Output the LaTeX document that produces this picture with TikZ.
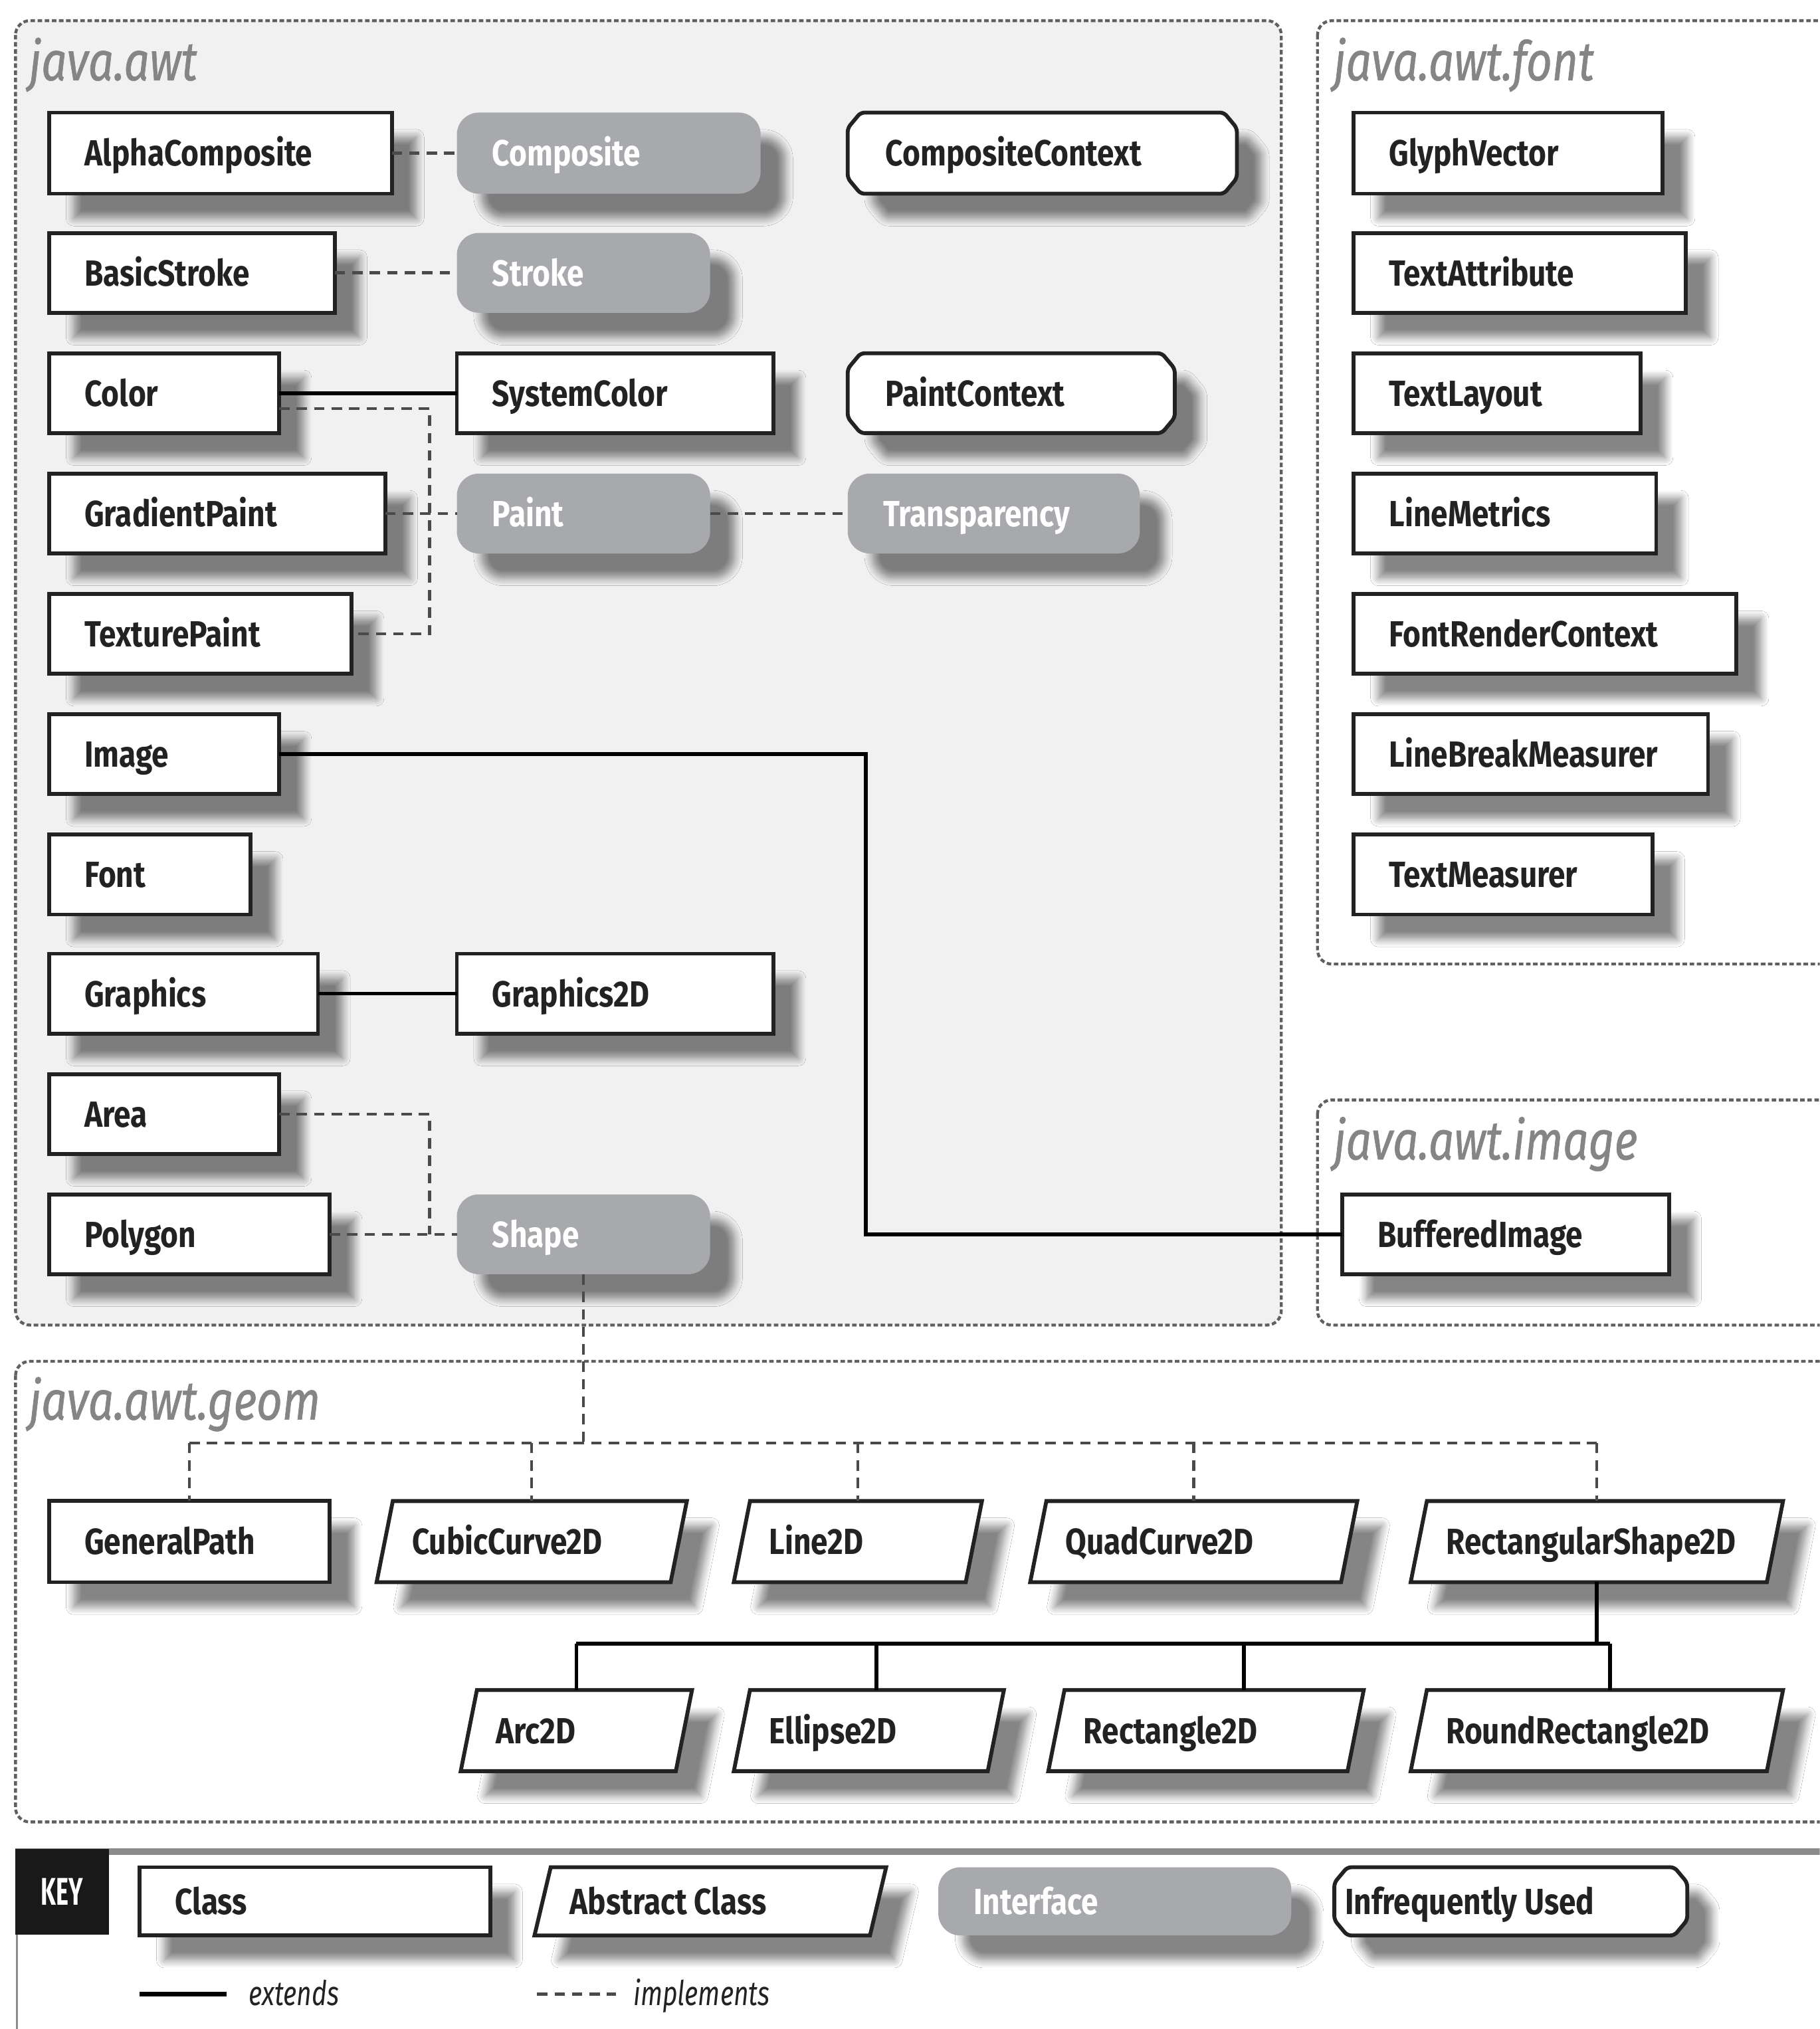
\documentclass[tikz,border=0pt]{standalone}
\usepackage{fontspec}
\setmainfont{Fira Sans}[FakeStretch=0.84]
\newfontfamily\titlefont{Fira Sans}[FakeStretch=0.82, FakeBold=0.8]
\newfontfamily\keylblfont{Fira Sans}[FakeStretch=0.76]
\newfontfamily\keyfont{Fira Sans}[FakeStretch=0.62]
\usetikzlibrary{shadows.blur}
\definecolor{awtbg}{HTML}{F1F1F1}
\definecolor{grpline}{HTML}{606060}
\definecolor{ifcfill}{HTML}{A7A9AC}
\definecolor{titlegray}{HTML}{858585}
\definecolor{impcol}{HTML}{4A4A4A}
\definecolor{keygray}{HTML}{8C8C8C}
\definecolor{boxcol}{HTML}{222222}
\tikzset{
  grp/.style={draw=grpline, line width=0.045cm, dash pattern=on 0.07cm off 0.04cm, rounded corners=0.22cm},
  sh/.style={blur shadow={shadow xshift=0.38cm, shadow yshift=-0.38cm, shadow blur radius=0.12cm, shadow blur steps=8, shadow opacity=48}},
  frame/.style={draw=none, inner sep=0pt, anchor=north west},
  boxline/.style={draw=boxcol, line width=0.06cm, fill=white, sh},
  ifcshape/.style={fill=ifcfill, rounded corners=0.34cm, sh},
  lbl/.style={anchor=base west, inner sep=0pt, font=\fontsize{16}{18}\selectfont\bfseries, text=boxcol},
  ilbl/.style={lbl, text=white},
  ttl/.style={anchor=base west, inner sep=0pt, font=\titlefont\fontsize{24}{26}\selectfont\itshape, text=titlegray},
  ext/.style={draw=black, line width=0.06cm},
  imp/.style={draw=impcol, line width=0.045cm, dash pattern=on 0.16cm off 0.11cm},
  keylbl/.style={anchor=base west, inner sep=0pt, font=\keylblfont\fontsize{15}{17}\selectfont\itshape, text=boxcol},
}
\newcommand\mkframe[5]{\node[frame, minimum width={(#4-#2)*0.02cm}, minimum height={(#5-#3)*0.02cm}] (#1) at (#2,#3) {};}
\newcommand\clsnode[6]{\mkframe{#1}{#2}{#3}{#4}{#5}
  \draw[boxline] (#1.north west) rectangle (#1.south east);
  \node[lbl] (#1-l) at ([xshift=0.54cm,yshift=-0.2cm]#1.west) {#6};}
\newcommand\absnode[6]{\mkframe{#1}{#2}{#3}{#4}{#5}
  \draw[boxline] ([xshift=0.25cm]#1.north west) -- (#1.north east) -- ([xshift=-0.25cm]#1.south east) -- (#1.south west) -- cycle;
  \node[lbl] (#1-l) at ([xshift=0.54cm,yshift=-0.2cm]#1.west) {#6};}
\newcommand\ifcnode[6]{\mkframe{#1}{#2}{#3}{#4}{#5}
  \fill[ifcshape] (#1.north west) rectangle (#1.south east);
  \node[ilbl] (#1-l) at ([xshift=0.54cm,yshift=-0.2cm]#1.west) {#6};}
\newcommand\infnode[7][0.58cm]{\mkframe{#2}{#3}{#4}{#5}{#6}
  \draw[boxline, rounded corners=0.06cm] ([xshift=0.2cm]#2.north west) -- ([xshift=-0.2cm]#2.north east) -- ([yshift=-0.24cm]#2.north east) -- ([yshift=0.24cm]#2.south east) -- ([xshift=-0.2cm]#2.south east) -- ([xshift=0.2cm]#2.south west) -- ([yshift=0.24cm]#2.south west) -- ([yshift=-0.24cm]#2.north west) -- cycle;
  \node[lbl] (#2-l) at ([xshift=#1,yshift=-0.2cm]#2.west) {#7};}
\begin{document}
\begin{tikzpicture}[x=0.02cm,y=-0.02cm]
\useasboundingbox (0,0) rectangle (1406,1568);
\clip (0,0) rectangle (1406,1568);
\fill[white] (0,0) rectangle (1406,1568);
% groups
\draw[grp, fill=awtbg] (12,16) rectangle (990,1024);
\draw[grp, fill=white] (1018,16) rectangle (1460,745);
\draw[grp, fill=white] (1018,850) rectangle (1460,1024);
\draw[grp, fill=white] (12,1052) rectangle (1460,1408);
\node[ttl] (t-awt) at (22,62) {java.awt};
\node[ttl] (t-font) at (1030,62) {java.awt.font};
\node[ttl] (t-image) at (1030,896) {java.awt.image};
\node[ttl] (t-geom) at (22,1097) {java.awt.geom};
% java.awt
\clsnode{alpha}{38}{87}{302}{149}{AlphaComposite}
\ifcnode{composite}{353}{87}{587}{149}{Composite}
\infnode{cctx}{655}{87}{955}{149}{CompositeContext}
\clsnode{basic}{38}{180}{258}{241}{BasicStroke}
\ifcnode{stroke}{353}{180}{548}{241}{Stroke}
\clsnode{color}{38}{273}{215}{334}{Color}
\clsnode{syscolor}{353}{273}{597}{334}{SystemColor}
\infnode{pctx}{655}{273}{907}{334}{PaintContext}
\clsnode{gradient}{38}{366}{297}{427}{GradientPaint}
\ifcnode{paint}{353}{366}{548}{427}{Paint}
\ifcnode{transp}{655}{366}{880}{427}{Transparency}
\clsnode{texture}{38}{459}{271}{520}{TexturePaint}
\clsnode{image}{38}{552}{215}{613}{Image}
\clsnode{font}{38}{645}{193}{706}{Font}
\clsnode{graphics}{38}{737}{245}{798}{Graphics}
\clsnode{gtwod}{353}{737}{597}{798}{Graphics2D}
\clsnode{area}{38}{830}{215}{891}{Area}
\clsnode{polygon}{38}{923}{254}{984}{Polygon}
\ifcnode{shape}{353}{923}{548}{984}{Shape}
% java.awt.font
\clsnode{glyph}{1046}{87}{1284}{149}{GlyphVector}
\clsnode{tattr}{1046}{180}{1302}{241}{TextAttribute}
\clsnode{tlayout}{1046}{273}{1267}{334}{TextLayout}
\clsnode{lmetrics}{1046}{366}{1279}{427}{LineMetrics}
\clsnode{frc}{1046}{459}{1341}{520}{FontRenderContext}
\clsnode{lbm}{1046}{552}{1319}{613}{LineBreakMeasurer}
\clsnode{tmeas}{1046}{645}{1276}{706}{TextMeasurer}
% java.awt.image
\clsnode{bufimg}{1037}{923}{1289}{984}{BufferedImage}
% java.awt.geom
\clsnode{gpath}{38}{1160}{254}{1222}{GeneralPath}
\absnode{cubic}{291}{1160}{530}{1222}{CubicCurve2D}
\absnode{line}{567}{1160}{758}{1222}{Line2D}
\absnode{quad}{796}{1160}{1048}{1222}{QuadCurve2D}
\absnode{rshape}{1090}{1160}{1377}{1222}{RectangularShape2D}
\absnode{arc}{356}{1306}{534}{1368}{Arc2D}
\absnode{ellipse}{567}{1306}{775}{1368}{Ellipse2D}
\absnode{rect}{810}{1306}{1053}{1368}{Rectangle2D}
\absnode{rrect}{1090}{1306}{1377}{1368}{RoundRectangle2D}
% connectors java.awt
\coordinate (jx) at (332,0);
\coordinate (ix) at (669,0);
\draw[imp] (alpha.east) -- (composite.west);
\draw[imp] (basic.east) -- (stroke.west);
\draw[ext] (color.east) -- (syscolor.west);
\draw[imp] ([yshift=-0.24cm]color.east) -| (texture.east -| jx) -- (texture.east);
\draw[imp] (gradient.east) -- (paint.west);
\draw[imp] (paint.east) -- (transp.west);
\draw[ext] (image.east) -| (bufimg.west -| ix) -- (bufimg.west);
\draw[ext] (graphics.east) -- (gtwod.west);
\draw[imp] (area.east) -| (shape.west -| jx);
\draw[imp] (polygon.east) -- (shape.west);
% connectors geom
\coordinate (bus) at (0,1115);
\draw[imp] (shape.south) -- (shape.south |- bus);
\draw[imp] (gpath.north |- bus) -- (rshape.north |- bus);
\draw[imp] (gpath.north |- bus) -- (gpath.north);
\draw[imp] (cubic.north |- bus) -- (cubic.north);
\draw[imp] (line.north |- bus) -- (line.north);
\draw[imp] (quad.north |- bus) -- (quad.north);
\draw[imp] (rshape.north |- bus) -- (rshape.north);
\coordinate (bustwo) at (0,1270);
\coordinate (dtwo) at (677,1270);
\coordinate (dthree) at (961,1270);
\coordinate (dfour) at (1244,1270);
\draw[ext] (rshape.south) -- (rshape.south |- bustwo);
\draw[ext] (arc.north |- bustwo) -- (dfour);
\draw[ext] (arc.north |- bustwo) -- (arc.north);
\draw[ext] (dtwo) -- (dtwo |- ellipse.north);
\draw[ext] (dthree) -- (dthree |- rect.north);
\draw[ext] (dfour) -- (dfour |- rrect.north);
% key
\draw[keygray, line width=0.1cm] (12,1431) -- (1406,1431);
\draw[keygray, line width=0.03cm] (13,1431) -- (13,1568);
\fill[black!90] (12,1429) rectangle (84,1495);
\node[anchor=center, inner sep=0pt, text=white, font=\keyfont\fontsize{17}{19}\selectfont\bfseries] (keyt) at (48,1462) {KEY};
\clsnode{kclass}{108}{1443}{378}{1495}{Class}
\absnode{kabs}{413}{1443}{684}{1495}{Abstract Class}
\ifcnode{kifc}{725}{1443}{997}{1495}{Interface}
\infnode[0.16cm]{kinf}{1031}{1443}{1303}{1495}{Infrequently Used}
\coordinate (eone) at (108,1541);
\coordinate (etwo) at (175,1541);
\draw[ext, line width=0.07cm] (eone) -- (etwo);
\node[keylbl] (kext) at (192,1550) {extends};
\coordinate (ione) at (415,1541);
\coordinate (itwo) at (476,1541);
\draw[imp] (ione) -- (itwo);
\node[keylbl] (kimp) at (489,1550) {implements};
\end{tikzpicture}
\end{document}
